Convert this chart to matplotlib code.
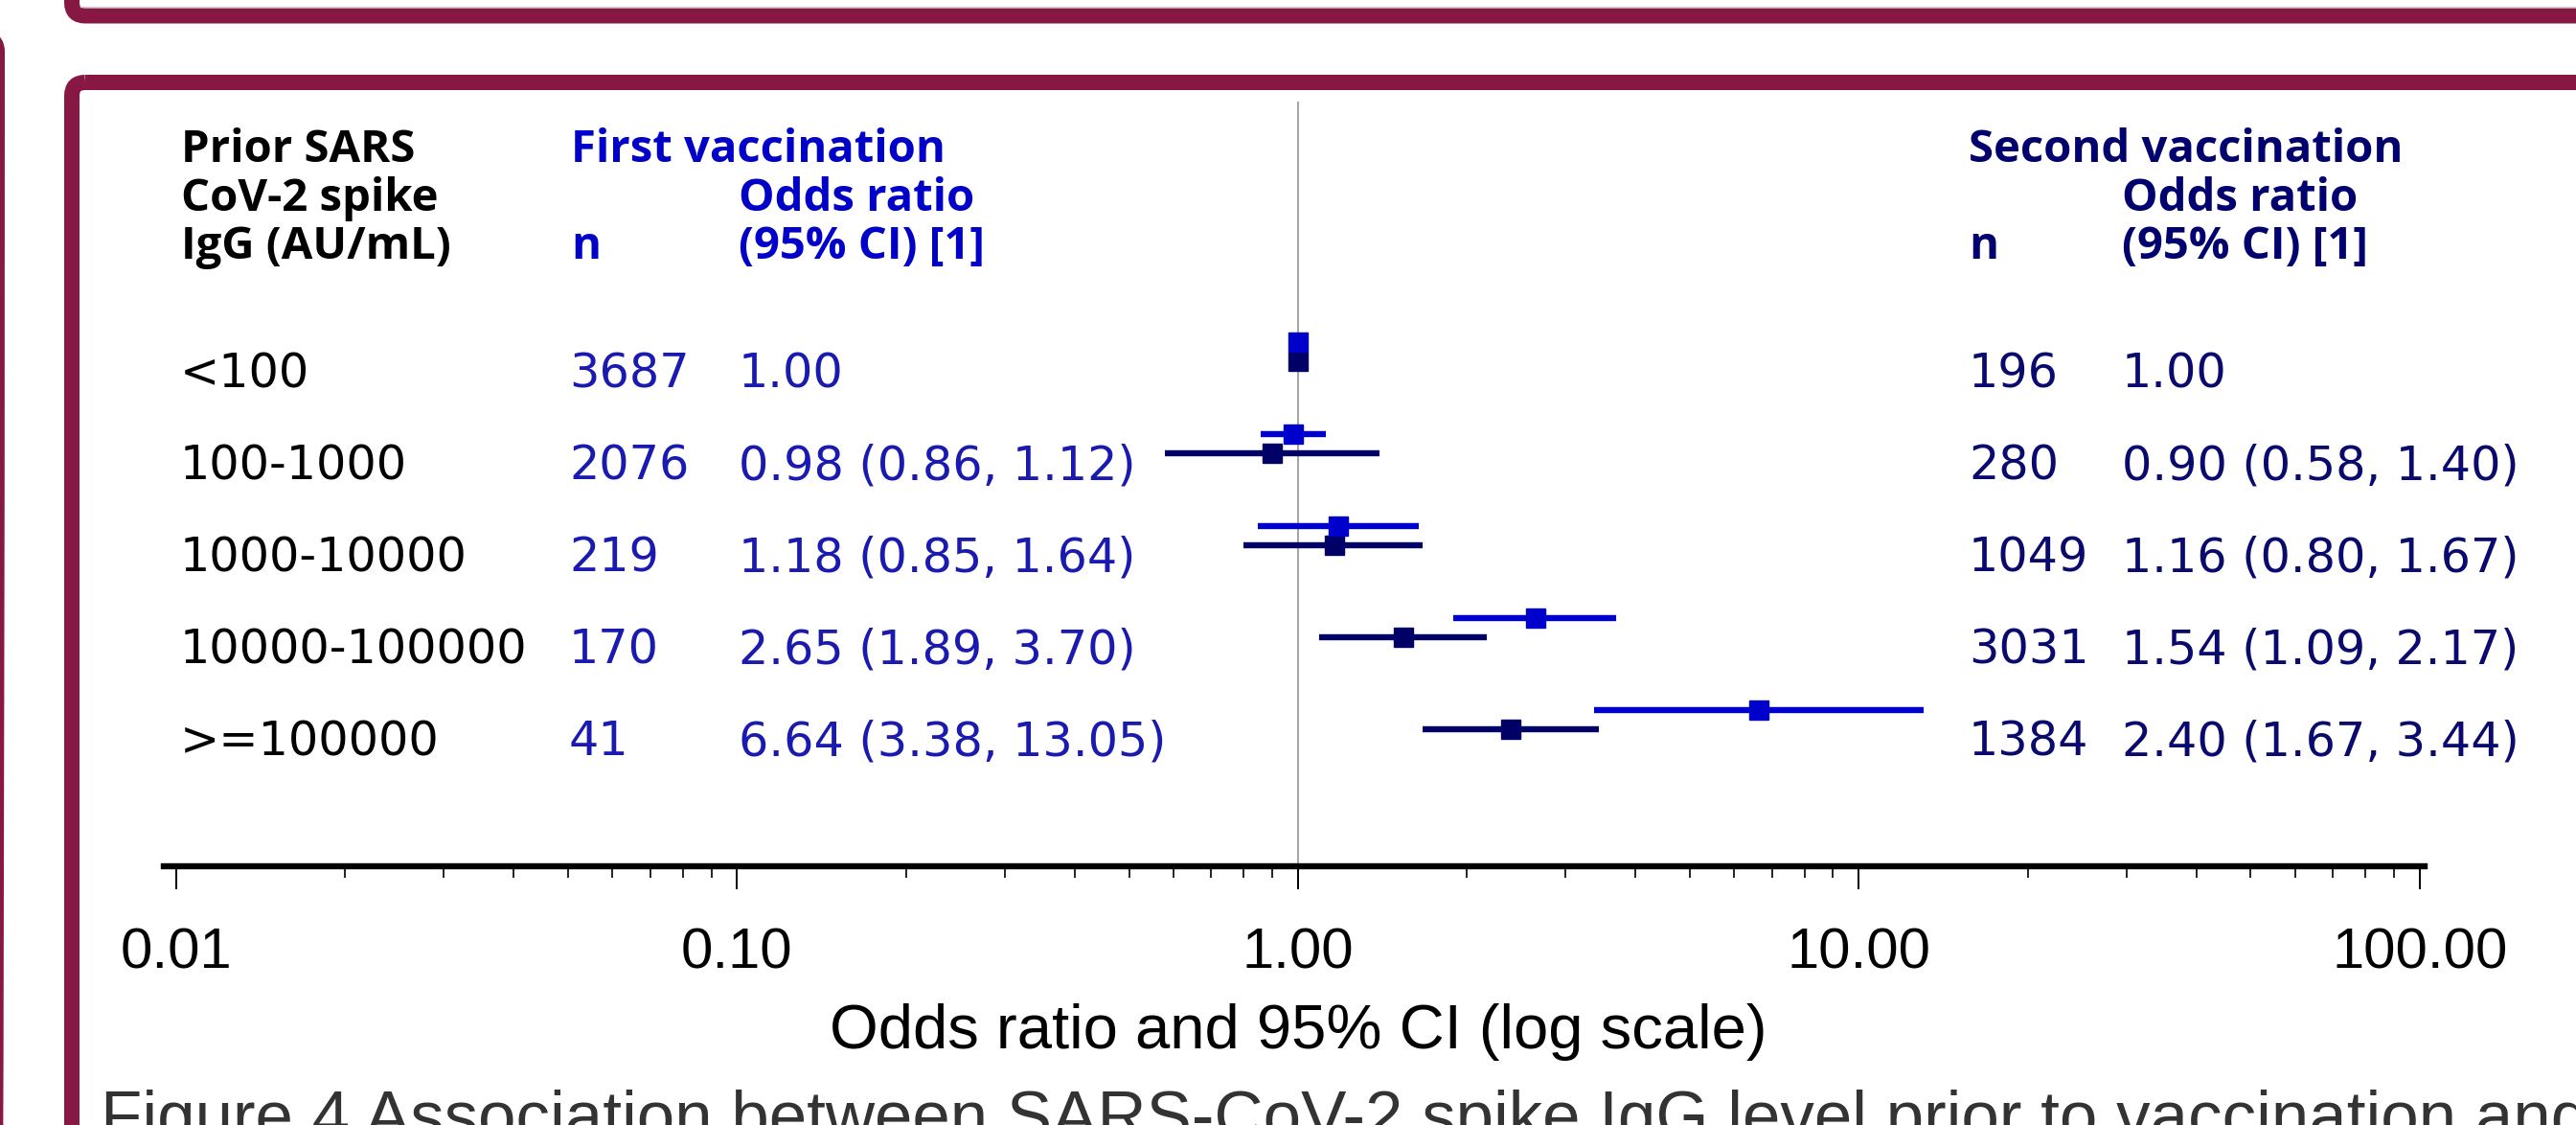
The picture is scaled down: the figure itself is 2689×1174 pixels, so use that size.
import matplotlib.pyplot as plt
from matplotlib import font_manager
from matplotlib.patches import FancyBboxPatch
from matplotlib.transforms import blended_transform_factory
from matplotlib.ticker import FixedLocator, NullFormatter
import numpy as np

# data
groups = ['<100', '100-1000', '1000-10000', '10000-100000', '>=100000']
n_first = [3687, 2076, 219, 170, 41]
or_first = [1.00, 0.98, 1.18, 2.65, 6.64]
lo_first = [None, 0.86, 0.85, 1.89, 3.38]
hi_first = [None, 1.12, 1.64, 3.70, 13.05]
n_second = [196, 280, 1049, 3031, 1384]
or_second = [1.00, 0.90, 1.16, 1.54, 2.40]
lo_second = [None, 0.58, 0.80, 1.09, 1.67]
hi_second = [None, 1.40, 1.67, 2.17, 3.44]
x_ticks = [0.01, 0.1, 1, 10, 100]

W, H = 2689, 1174
maroon = '#861843'
blue = '#0000CC'
navy = '#000066'


def or_text(o, lo, hi):
    if lo is None:
        return "%.2f" % o
    return "%.2f (%.2f, %.2f)" % (o, lo, hi)


# pick a bold font for the headers (first one that really has a bold face)
bold_family = 'DejaVu Sans'
for name in ['Noto Sans', 'Open Sans', 'Lato', 'Roboto', 'Inter']:
    ok = [f for f in font_manager.fontManager.ttflist
          if f.name == name and f.weight in (700, 'bold') and f.style == 'normal']
    if ok:
        bold_family = name
        break

fig = plt.figure(figsize=(W / 100, H / 100), dpi=100)

# background layer in pixel units (frames, headers, caption)
bg = fig.add_axes([0, 0, 1, 1])
bg.set_xlim(0, W)
bg.set_ylim(H, 0)
bg.axis('off')

lw_frame = 16 * 0.72
bg.add_patch(FancyBboxPatch((75, -200), 3000, 216.5, boxstyle="round,pad=0,rounding_size=14",
                            fc='none', ec=maroon, lw=lw_frame))
bg.plot([84, W], [7, 7], color='#d0d0d0', lw=1)
bg.add_patch(FancyBboxPatch((-300, 40), 297, 2000, boxstyle="round,pad=0,rounding_size=14",
                            fc='none', ec=maroon, lw=lw_frame))
bg.add_patch(FancyBboxPatch((75, 86), 3000, 2000, boxstyle="round,pad=0,rounding_size=14",
                            fc='none', ec=maroon, lw=lw_frame))

# column headers
hdr_size = 34 if bold_family != 'DejaVu Sans' else 29.5
hdr = dict(fontsize=hdr_size, fontweight='bold', family=bold_family, va='baseline')
base = [169, 220, 270]
for txt, yy in zip(['Prior SARS', 'CoV-2 spike', 'IgG (AU/mL)'], base):
    bg.text(189, yy, txt, color='black', **hdr)
for x0, x1, title, col in [(596, 771, 'First vaccination', '#0000C8'),
                           (2055, 2215, 'Second vaccination', '#00006E')]:
    bg.text(x0, base[0], title, color=col, **hdr)
    bg.text(x1, base[1], 'Odds ratio', color=col, **hdr)
    bg.text(x0, base[2], 'n', color=col, **hdr)
    bg.text(x1, base[2], '(95% CI) [1]', color=col, **hdr)

bg.text(1355, 1094, 'Odds ratio and 95% CI (log scale)', fontsize=47, family='Liberation Sans',
        ha='center', va='baseline', color='black')
bg.text(105, 1188, 'Figure 4 Association between SARS-CoV-2 spike IgG level prior to vaccination and',
        fontsize=51, family='Liberation Sans', va='baseline', color='#333333')

# forest plot
ax = fig.add_axes([171 / W, (H - 904) / H, (2531 - 171) / W, (904 - 106) / H])
ax.patch.set_alpha(0)
ax.set_xscale('log')
ax.set_xlim(10 ** -2.022, 10 ** 2.009)
ax.set_ylim(5.365, -2.948)
rows = np.arange(len(groups))

ax.axvline(1, color='#8a8a8a', lw=1.1, zorder=1)
for i in rows:
    if lo_second[i] is not None:
        ax.hlines(i - 0.125, lo_second[i], hi_second[i], color=navy, lw=4.6, zorder=2)
    if lo_first[i] is not None:
        ax.hlines(i - 0.33, lo_first[i], hi_first[i], color=blue, lw=4.6, zorder=3)
ax.plot(or_second, rows - 0.125, 's', color=navy, ms=14, zorder=4)
ax.plot(or_first, rows - 0.33, 's', color=blue, ms=14, zorder=5)

for s in ['left', 'top', 'right']:
    ax.spines[s].set_visible(False)
ax.spines['bottom'].set_linewidth(4.6)
ax.set_yticks([])
ax.xaxis.set_major_locator(FixedLocator(x_ticks))
ax.set_xticklabels(["%.2f" % t for t in x_ticks], fontsize=43, family='Liberation Sans')
minor = [m * 10.0 ** k for k in range(-2, 2) for m in range(2, 10)]
ax.xaxis.set_minor_locator(FixedLocator(minor))
ax.xaxis.set_minor_formatter(NullFormatter())
ax.tick_params(axis='x', which='major', length=17, width=1.4, pad=29)
ax.tick_params(axis='x', which='minor', length=8.5, width=1.2)

# table columns
tr = blended_transform_factory(bg.transData, ax.transData)
row_txt = dict(fontsize=35.5, family='DejaVu Sans', va='baseline', transform=tr)
for i in rows:
    yb = i + 0.16
    ax.text(188, yb, groups[i], color='black', **row_txt)
    ax.text(594, yb, str(n_first[i]), color='#1A1AB0', **row_txt)
    ax.text(771, yb, or_text(or_first[i], lo_first[i], hi_first[i]), color='#1A1AB0', **row_txt)
    ax.text(2055, yb, str(n_second[i]), color='#0A0A6E', **row_txt)
    ax.text(2215, yb, or_text(or_second[i], lo_second[i], hi_second[i]), color='#0A0A6E', **row_txt)

fig.savefig('out.png', dpi=100)
